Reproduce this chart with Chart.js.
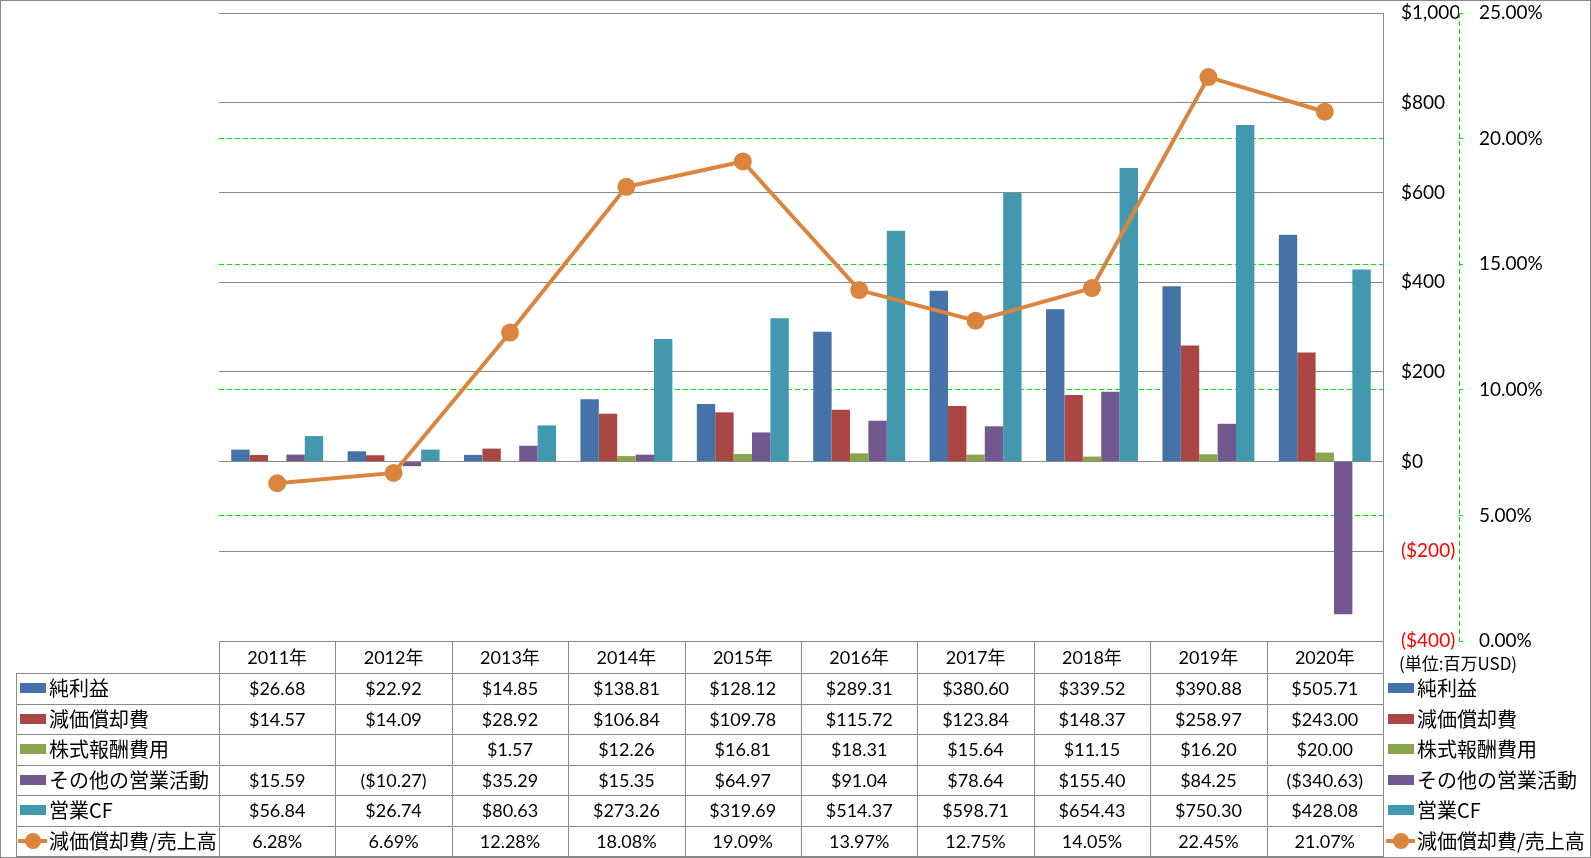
<!DOCTYPE html>
<html><head><meta charset="utf-8">
<script src="https://cdn.jsdelivr.net/npm/chart.js@4.4.0/dist/chart.umd.min.js"></script>
<style>
html,body{margin:0;padding:0;background:#fff;}
#wrap{position:relative;width:1591px;height:858px;overflow:hidden;background:#fff;}
#frame{position:absolute;left:0;top:0;width:1591px;height:858px;box-sizing:border-box;border:1px solid #888;pointer-events:none;}
canvas{position:absolute;left:0;top:0;}
.t{position:absolute;white-space:nowrap;font-family:Lato,'Noto Sans CJK JP',sans-serif;font-size:18px;color:#000;text-align:center;}
.lab{position:absolute;white-space:nowrap;font-family:'Noto Sans CJK JP',sans-serif;font-size:20px;color:#000;}
.hl{position:absolute;height:1px;background:#8a8a8a;}
.vl{position:absolute;width:1px;background:#8a8a8a;}
.key{position:absolute;width:26px;height:10px;}
</style></head><body>
<div id="wrap"><canvas id="c" width="1591" height="858"></canvas><div id="tbl"></div><div id="frame"></div></div>
<script>
const categories = ['2011年','2012年','2013年','2014年','2015年','2016年','2017年','2018年','2019年','2020年'];
const netIncome = [26.68,22.92,14.85,138.81,128.12,289.31,380.60,339.52,390.88,505.71];
const depreciation = [14.57,14.09,28.92,106.84,109.78,115.72,123.84,148.37,258.97,243.00];
const stockComp = [null,null,1.57,12.26,16.81,18.31,15.64,11.15,16.20,20.00];
const otherOps = [15.59,-10.27,35.29,15.35,64.97,91.04,78.64,155.40,84.25,-340.63];
const operatingCF = [56.84,26.74,80.63,273.26,319.69,514.37,598.71,654.43,750.30,428.08];
const depRatio = [6.28,6.69,12.28,18.08,19.09,13.97,12.75,14.05,22.45,21.07];
const seriesNames = ['純利益','減価償却費','株式報酬費用','その他の営業活動','営業CF','減価償却費/売上高'];
const seriesColors = ['#4572A7','#AA4643','#89A54E','#71588F','#4198AF','#DB843D'];
const unitLabel = '(単位:百万USD)';
const yMin = -400, yMax = 1000, yStep = 200;
const y1Min = 0, y1Max = 25, y1Step = 5;

const GREEN = '#00E600';
const GRAY = '#888888';
const TARGET_TOP = 13, TARGET_BOTTOM = 641;
const money = v => v == null ? '' : (v < 0 ? '($' + Math.abs(v).toFixed(2) + ')' : '$' + v.toFixed(2));
const moneyTick = v => v < 0 ? '($' + Math.abs(v).toLocaleString('en-US') + ')' : '$' + v.toLocaleString('en-US');
const pct = v => v.toFixed(2) + '%';

const barSeries = [netIncome, depreciation, stockComp, otherOps, operatingCF];
const datasets = barSeries.map((d, i) => ({
  type: 'bar', label: seriesNames[i], data: d, backgroundColor: seriesColors[i],
  borderWidth: 0, yAxisID: 'y', order: 1, categoryPercentage: 0.79, barPercentage: 1.0
}));
datasets.push({
  type: 'line', label: seriesNames[5], data: depRatio, yAxisID: 'y1', order: 0,
  borderColor: seriesColors[5], backgroundColor: seriesColors[5], borderWidth: 4,
  pointRadius: 9, pointBackgroundColor: seriesColors[5], pointBorderWidth: 0, tension: 0
});

const secAxisLine = {
  id: 'secAxisLine',
  afterDraw(chart) {
    const s = chart.scales.y1, ctx = chart.ctx;
    ctx.save();
    ctx.strokeStyle = GREEN; ctx.lineWidth = 1; ctx.setLineDash([5, 3]);
    ctx.beginPath(); ctx.moveTo(s.left + 0.5, s.top); ctx.lineTo(s.left + 0.5, s.bottom); ctx.stroke();
    ctx.restore();
  }
};

const tickFont = { family: "Lato, 'Noto Sans CJK JP', sans-serif", size: 19 };
const noPad = s => { s.paddingTop = 0; s.paddingBottom = 0; };
const chart = new Chart(document.getElementById('c'), {
  data: { labels: categories, datasets },
  options: {
    responsive: false, animation: false, devicePixelRatio: 1,
    layout: { padding: { left: 219, top: TARGET_TOP, right: 0, bottom: 858 - TARGET_BOTTOM } },
    plugins: { legend: { display: false }, tooltip: { enabled: false } },
    scales: {
      x: { display: false, offset: true },
      y: {
        position: 'right', weight: 0, min: yMin, max: yMax,
        afterFit: s => { s.width = 76; noPad(s); },
        ticks: { stepSize: yStep, padding: 18, font: tickFont,
          color: c => c.tick.value < 0 ? '#FF0000' : '#000000',
          callback: v => moneyTick(v) },
        grid: { color: GRAY, lineWidth: 1, drawTicks: false },
        border: { display: true, color: GRAY, width: 1 }
      },
      y1: {
        position: 'right', weight: 1, min: y1Min, max: y1Max,
        afterFit: s => { s.width = 132; noPad(s); },
        ticks: { stepSize: y1Step, padding: 16, font: tickFont, color: '#000', callback: v => pct(v) },
        grid: { color: c => (c.tick && (c.tick.value === y1Min || c.tick.value === y1Max)) ? 'rgba(0,0,0,0)' : GREEN,
          tickColor: GREEN, drawTicks: true, tickLength: 4, lineWidth: 1 },
        border: { display: false, dash: [5, 3] }
      }
    }
  },
  plugins: [secAxisLine]
});
for (let it = 0; it < 3; it++) {
  const ca0 = chart.chartArea;
  const dt = TARGET_TOP - ca0.top, db = ca0.bottom - TARGET_BOTTOM;
  if (Math.abs(dt) < 0.5 && Math.abs(db) < 0.5) break;
  chart.options.layout.padding.top += dt;
  chart.options.layout.padding.bottom += db;
  chart.update();
}

// data table
const tbl = document.getElementById('tbl');
const ca = chart.chartArea;
const colW = (ca.right - ca.left) / categories.length;
const headTop = ca.bottom, headH = 32, rowH = 30.5;
const bottom = headTop + headH + rowH * 6;
function el(cls, css, txt) {
  const d = document.createElement('div'); d.className = cls;
  Object.assign(d.style, css); if (txt != null) d.textContent = txt; tbl.appendChild(d); return d;
}
el('hl', { left: ca.left + 'px', top: headTop + 'px', width: (ca.right - ca.left + 1) + 'px' });
for (let r = 0; r <= 6; r++) {
  const y = Math.round(headTop + headH + r * rowH);
  el('hl', { left: '16px', top: y + 'px', width: (ca.right - 16 + 1) + 'px' });
}
el('vl', { left: '16px', top: (headTop + headH) + 'px', height: (bottom - headTop - headH) + 'px' });
for (let k = 0; k <= categories.length; k++) {
  el('vl', { left: Math.round(ca.left + k * colW) + 'px', top: headTop + 'px', height: (bottom - headTop + 1) + 'px' });
}
categories.forEach((c, i) => {
  el('t', { left: (ca.left + i * colW) + 'px', width: colW + 'px', top: headTop + 'px', height: headH + 'px', lineHeight: headH + 'px' }, c);
});
const rows = [netIncome.map(money), depreciation.map(money), stockComp.map(money), otherOps.map(money), operatingCF.map(money), depRatio.map(pct)];
rows.forEach((vals, r) => {
  const top = headTop + headH + r * rowH;
  vals.forEach((v, i) => {
    el('t', { left: (ca.left + i * colW) + 'px', width: colW + 'px', top: top + 'px', height: rowH + 'px', lineHeight: rowH + 'px' }, v);
  });
  [[20, 49], [1388, 1417]].forEach(([kx, tx]) => {
    const cy = top + rowH / 2;
    if (r < 5) {
      el('key', { left: kx + 'px', top: (cy - 5) + 'px', background: seriesColors[r] });
    } else {
      el('key', { left: (kx - 2) + 'px', top: (cy - 2) + 'px', height: '4px', width: '29px', background: seriesColors[r] });
      el('key', { left: (kx + 5) + 'px', top: (cy - 8) + 'px', height: '16px', width: '16px', borderRadius: '50%', background: seriesColors[r] });
    }
    el('lab', { left: tx + 'px', top: top + 'px', height: rowH + 'px', lineHeight: rowH + 'px' }, seriesNames[r]);
  });
});
el('lab', { left: '1399px', top: '652px', fontSize: '17px', lineHeight: '22px' }, unitLabel);
</script>
</body></html>
